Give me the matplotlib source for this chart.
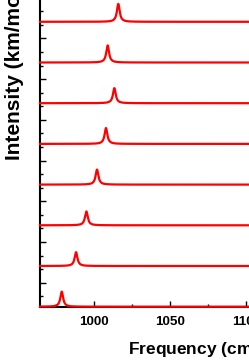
import numpy as np
import matplotlib
matplotlib.use("Agg")
import matplotlib.pyplot as plt
from matplotlib.ticker import MultipleLocator

plt.rcParams['font.family'] = ['Liberation Sans', 'DejaVu Sans']
plt.rcParams['font.weight'] = 'bold'

#Peak data, bottom spectrum first
peak_pos = [978.6, 988.0, 994.8, 1001.8, 1007.7, 1013.2, 1008.8, 1015.8] #[cm^-1]
peak_int = [0.37, 0.34, 0.34, 0.37, 0.39, 0.37, 0.42, 0.44] #[offset units]
offsets = [0, 1, 2, 3, 4, 5, 6, 7]
hwhm = 1.1 #[cm^-1]

x_min = 964.3
x_max = 1150
y_min = 0
y_max = 11.5

freq = np.linspace(x_min, x_max, 6000)

#Figure, axes reach past the right and top edges
fig = plt.figure(figsize=(2.49, 3.6), dpi=100)
px_x = 1.52 #[px per cm^-1]
px_y = 40.7 #[px per offset unit]
left = 40/249
bottom = (360-306.7)/360
ax = fig.add_axes([left, bottom, (x_max-x_min)*px_x/249, (y_max-y_min)*px_y/360])

for x0, h, off in zip(peak_pos, peak_int, offsets):
    spec = off + h*hwhm**2/((freq-x0)**2 + hwhm**2)
    ax.plot(freq, spec, color='red', linewidth=1.6, zorder=3, clip_on=False)

ax.set_xlim(x_min, x_max)
ax.set_ylim(y_min, y_max)

ax.xaxis.set_major_locator(MultipleLocator(50))
ax.xaxis.set_minor_locator(MultipleLocator(25))
ax.set_yticks(np.arange(0.59, y_max, 1.0))
ax.set_yticks(np.arange(0.59-1/3, y_max, 1/3), minor=True)
ax.set_yticklabels([])

ax.tick_params(which='both', direction='in', width=1.0, top=False, right=False)
ax.tick_params(which='major', length=4, pad=6.5, labelsize=9.7)
ax.tick_params(which='minor', length=2.2)
for lab in ax.get_xticklabels():
    lab.set_fontweight('bold')

for side in ['left', 'bottom']:
    ax.spines[side].set_linewidth(1.5)

ax.set_xlabel("Frequency (cm$^{\\mathbf{-1}}$)", fontsize=12.5, fontweight='bold', ha='left', va='center')
ax.xaxis.set_label_coords(128/249, (360-348)/360, transform=fig.transFigure)
ax.set_ylabel("Intensity (km/mol)", fontsize=15, fontweight='bold', ha='left', va='center')
ax.yaxis.set_label_coords(14.5/249, (360-160)/360, transform=fig.transFigure)

fig.savefig("out.png", dpi=100)
